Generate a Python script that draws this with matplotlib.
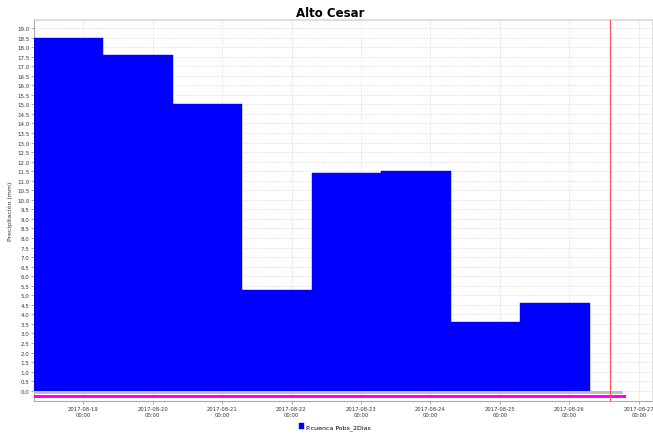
import matplotlib
matplotlib.use("Agg")
import matplotlib.pyplot as plt
import matplotlib.dates as mdates
import numpy as np
import datetime as dt

# ---- data ----
bar_starts = ["2017-08-18 07:00", "2017-08-19 07:00", "2017-08-20 07:00", "2017-08-21 07:00",
              "2017-08-22 07:00", "2017-08-23 07:00", "2017-08-24 07:00", "2017-08-25 07:00"]
precip = [18.5, 17.6, 15.0, 5.3, 11.4, 11.5, 3.6, 4.6]
series_name = "P.cuenca Pobs_2Dias"
title = "Alto Cesar"
ylabel = "Precipitación (mm)"
tick_days = ["2017-08-19", "2017-08-20", "2017-08-21", "2017-08-22", "2017-08-23",
             "2017-08-24", "2017-08-25", "2017-08-26", "2017-08-27"]
now_time = "2017-08-26 14:00"
gray_end = "2017-08-26 18:40"
magenta_end = "2017-08-26 19:30"
x_start = "2017-08-18 07:00"
x_end = "2017-08-27 04:45"

def p(s):
    return dt.datetime.strptime(s, "%Y-%m-%d %H:%M")

starts = [mdates.date2num(p(s)) for s in bar_starts]

fig = plt.figure(figsize=(6.53, 4.35), dpi=100)
ax = fig.add_axes([34/653, 1-402.3/435, 1-34/653-0.5/653, (402.3-21)/435])

ax.bar(starts, precip, width=1.0, align="edge", color="#0000ff",
       edgecolor="#0000ff", linewidth=0.3, zorder=3, label=series_name)

x0 = mdates.date2num(p(x_start))
ax.fill_between([x0, mdates.date2num(p(gray_end))], -0.19, 0.0, color="#c0c0c0", zorder=3, linewidth=0)
ax.fill_between([x0, mdates.date2num(p(magenta_end))], -0.38, -0.22, color="#ff00ff", zorder=3, linewidth=0)
ax.axvline(mdates.date2num(p(now_time)), color="#ff5050", linewidth=0.8, zorder=4)

ax.set_xlim(x0, mdates.date2num(p(x_end)))
ax.set_ylim(-0.555, 19.42)

ticks = [mdates.date2num(dt.datetime.strptime(d, "%Y-%m-%d")) for d in tick_days]
ax.set_xticks(ticks)
ax.set_xticklabels([d + "\n00:00" for d in tick_days], fontsize=3.8, color="#333333")
ax.set_yticks(np.arange(0, 19.01, 0.5))
ax.set_yticklabels(["%.1f" % v for v in np.arange(0, 19.01, 0.5)], fontsize=4, color="#333333")
ax.tick_params(axis="both", length=2, width=0.5, color="#888888", pad=1.5)

ax.grid(True, color="#d4d4d4", linestyle=(0, (1.5, 1.5)), linewidth=0.5, zorder=0)
ax.set_axisbelow(True)

for side in ["top", "right"]:
    ax.spines[side].set_color("#d8d8d8")
    ax.spines[side].set_linewidth(1.2)
ax.spines["left"].set_color("#aaaaaa")
ax.spines["left"].set_linewidth(0.8)
ax.spines["bottom"].set_color("#aaaaaa")
ax.spines["bottom"].set_linewidth(0.8)

ax.set_ylabel(ylabel, fontsize=4.5, color="#333333", labelpad=3)
fig.text(0.505, 0.968, title, ha="center", va="center", fontsize=8.5, fontweight="bold")

handles, labels = ax.get_legend_handles_labels()
fig.legend(handles, labels, loc="center", bbox_to_anchor=(0.513, 0.018), frameon=False,
           fontsize=4.5, handlelength=0.7, handleheight=1.2, handletextpad=0.3)

fig.savefig("out.png", dpi=100)
